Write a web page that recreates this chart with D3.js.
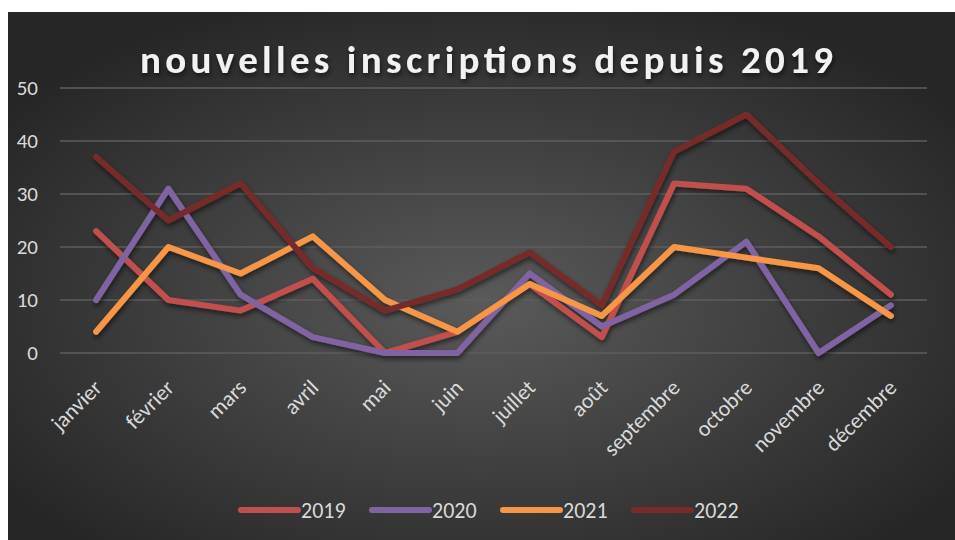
<!DOCTYPE html>
<html>
<head>
<meta charset="utf-8">
<script src="https://cdn.jsdelivr.net/npm/d3@7"></script>
<style>
  html, body { margin: 0; padding: 0; background: #fff; }
  svg { display: block; font-family: Carlito, Calibri, Lato, sans-serif; }
</style>
</head>
<body>
<div id="chart"></div>
<script>
const months = ["janvier", "février", "mars", "avril", "mai", "juin", "juillet", "août", "septembre", "octobre", "novembre", "décembre"];
const years = ["2019", "2020", "2021", "2022"];
const v2019 = [23, 10, 8, 14, 0, 4, 13, 3, 32, 31, 22, 11];
const v2020 = [10, 31, 11, 3, 0, 0, 15, 5, 11, 21, 0, 9];
const v2021 = [4, 20, 15, 22, 10, 4, 13, 7, 20, 18, 16, 7];
const v2022 = [37, 25, 32, 16, 8, 12, 19, 9, 38, 45, 32, 20];
const yTicks = [0, 10, 20, 30, 40, 50];
const colors = ["#c0504d", "#8064a2", "#f79646", "#772c2a"];

const series = years.map((y, i) => ({ name: y, values: [v2019, v2020, v2021, v2022][i], color: colors[i] }));

const width = 955, height = 540;
const margin = { top: 88, right: 28, bottom: 187, left: 60 };
const fontFam = "Carlito, Calibri, Lato, sans-serif";

const svg = d3.select("#chart").append("svg")
    .attr("width", width)
    .attr("height", height);

const defs = svg.append("defs");
const grad = defs.append("radialGradient")
    .attr("id", "bg")
    .attr("cx", "50%").attr("cy", "55%").attr("r", "62%");
grad.append("stop").attr("offset", "0%").attr("stop-color", "#5a5a5a");
grad.append("stop").attr("offset", "100%").attr("stop-color", "#262626");

const shadow = defs.append("filter").attr("id", "shadow")
    .attr("x", "-10%").attr("y", "-10%").attr("width", "120%").attr("height", "130%");
shadow.append("feDropShadow")
    .attr("dx", 1).attr("dy", 3).attr("stdDeviation", 2.5)
    .attr("flood-color", "#000").attr("flood-opacity", 0.55);

// panel
svg.append("rect")
    .attr("x", 8).attr("y", 12)
    .attr("width", width - 8).attr("height", height - 12)
    .attr("fill", "url(#bg)");

const x = d3.scaleBand()
    .domain(months)
    .range([margin.left, width - margin.right]);

const y = d3.scaleLinear()
    .domain([0, 50])
    .range([height - margin.bottom, margin.top]);

// gridlines
svg.append("g")
    .selectAll("line")
    .data(yTicks)
    .join("line")
    .attr("x1", margin.left)
    .attr("x2", width - margin.right)
    .attr("y1", d => y(d))
    .attr("y2", d => y(d))
    .attr("stroke", "#5e5e5e")
    .attr("stroke-width", 1.3);

// y axis labels
const yAxis = svg.append("g")
    .attr("transform", `translate(${margin.left},0)`)
    .call(d3.axisLeft(y).tickValues(yTicks).tickSize(0).tickPadding(22));
yAxis.select(".domain").remove();
yAxis.selectAll("text")
    .attr("fill", "#d9d9d9")
    .style("font-size", "21px")
    .style("font-family", fontFam);

// x axis labels
const xAxis = svg.append("g")
    .attr("transform", `translate(0,${y(0)})`)
    .call(d3.axisBottom(x).tickSize(0).tickPadding(0));
xAxis.select(".domain").remove();
xAxis.selectAll("text")
    .attr("fill", "#d9d9d9")
    .style("font-size", "22px")
    .style("font-family", fontFam)
    .attr("text-anchor", "end")
    .attr("dy", "0")
    .attr("y", 0)
    .attr("transform", "translate(7,36) rotate(-45)");

// lines
const line = d3.line()
    .x((d, i) => x(months[i]) + x.bandwidth() / 2)
    .y(d => y(d));

svg.append("g")
    .attr("filter", "url(#shadow)")
    .selectAll("path")
    .data(series)
    .join("path")
    .attr("d", d => line(d.values))
    .attr("fill", "none")
    .attr("stroke", d => d.color)
    .attr("stroke-width", 6)
    .attr("stroke-linejoin", "round")
    .attr("stroke-linecap", "round");

// title
svg.append("text")
    .attr("x", 140)
    .attr("y", 73)
    .attr("fill", "#f2f2f2")
    .attr("filter", "url(#shadow)")
    .attr("textLength", 693)
    .attr("lengthAdjust", "spacing")
    .style("font-size", "39px")
    .style("font-weight", "bold")
    .text("nouvelles inscriptions depuis 2019");

// legend
const legendX = d3.scalePoint().domain(years).range([241, 634]);
const legend = svg.append("g")
    .selectAll("g")
    .data(series)
    .join("g")
    .attr("transform", d => `translate(${legendX(d.name)},510)`);

legend.append("line")
    .attr("x1", 0).attr("x2", 57)
    .attr("stroke", d => d.color)
    .attr("stroke-width", 6)
    .attr("stroke-linecap", "round");

legend.append("text")
    .attr("x", 60)
    .attr("y", 8)
    .attr("fill", "#d9d9d9")
    .style("font-size", "22px")
    .text(d => d.name);
</script>
</body>
</html>
